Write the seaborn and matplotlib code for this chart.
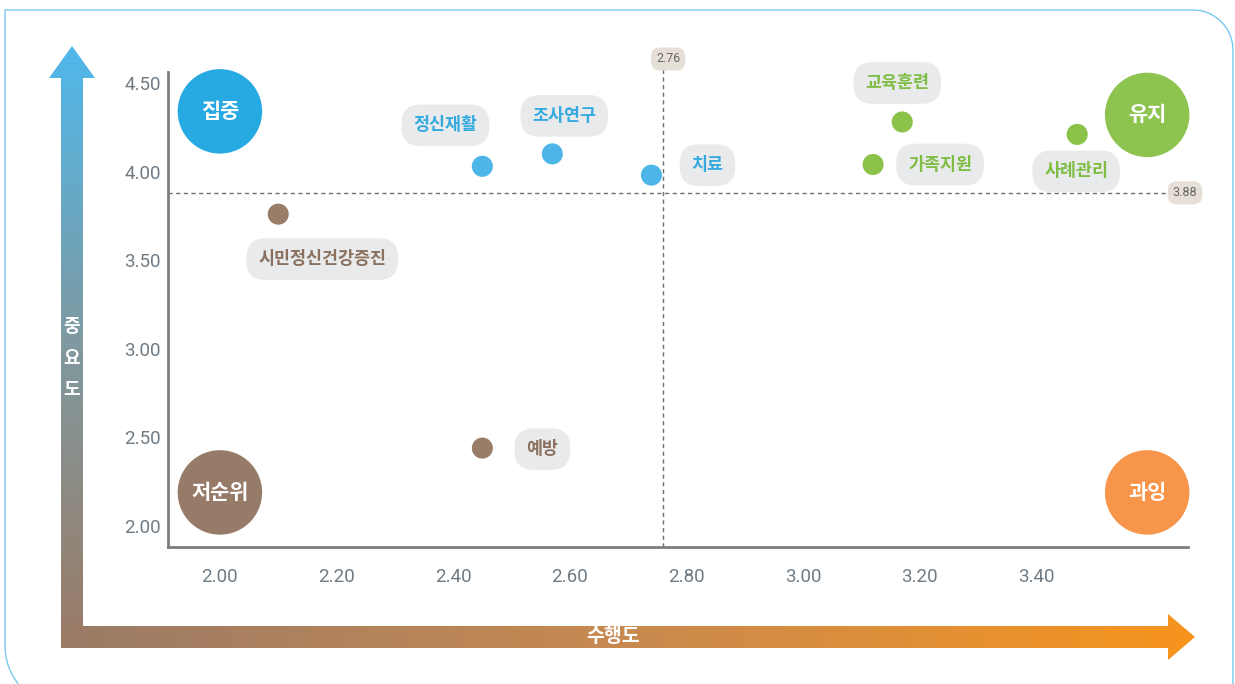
import numpy as np
import pandas as pd
import matplotlib
matplotlib.use("Agg")
import matplotlib.pyplot as plt
import seaborn as sns
from matplotlib.path import Path
from matplotlib.patches import PathPatch, Polygon
from matplotlib.colors import to_rgb
import matplotlib.transforms as mtransforms

# ---------------- data ----------------
tasks = ['시민정신건강증진', '예방', '정신재활', '조사연구', '치료', '가족지원', '교육훈련', '사례관리']
performance = [2.10, 2.45, 2.45, 2.57, 2.74, 3.12, 3.17, 3.47]
importance = [3.76, 2.44, 4.03, 4.10, 3.98, 4.04, 4.28, 4.21]
group = ['저순위', '저순위', '집중', '집중', '집중', '유지', '유지', '유지']

quadrants = ['집중', '유지', '저순위', '과잉']
quad_x = [2.00, 3.59, 2.00, 3.59]
quad_y = [4.34, 4.32, 2.19, 2.19]

x_mean = 2.76
y_mean = 3.88

x_ticks = [2.00, 2.20, 2.40, 2.60, 2.80, 3.00, 3.20, 3.40]
y_ticks = [2.00, 2.50, 3.00, 3.50, 4.00, 4.50]

x_title = '수행도'
y_title = '중요도'

# label offsets in pixels (layout only)
label_offsets = {
    '시민정신건강증진': (44, -45), '예방': (60, -1), '정신재활': (-37, 41),
    '조사연구': (12, 38), '치료': (56, 10), '가족지원': (67, 0),
    '교육훈련': (-5, 39), '사례관리': (-1, -37),
}

point_palette = {'집중': '#4db5e8', '유지': '#8bc34a', '저순위': '#9a7d69', '과잉': '#f7954a'}
text_palette = {'집중': '#35aade', '유지': '#7fbd45', '저순위': '#8a705e', '과잉': '#f08a3a'}
quad_palette = {'집중': '#27a9e1', '유지': '#8cc44f', '저순위': '#967b69', '과잉': '#f7954a'}

# ---------------- figure ----------------
sns.set_theme(style='white')
plt.rcParams['font.family'] = ['Noto Sans CJK KR', 'DejaVu Sans']

W, H = 1235, 684
fig = plt.figure(figsize=(W / 100, H / 100), dpi=100)

# background / decoration axes in pixel coordinates
bg = fig.add_axes([0, 0, 1, 1], zorder=0)
bg.set_xlim(0, W)
bg.set_ylim(H, 0)
bg.axis('off')

# frame
verts = [(1233, 700), (1233, 50), (1233, 28), (1215, 10), (1193, 10),
         (5, 10), (5, 645), (5, 667), (15, 684), (32, 698)]
codes = [Path.MOVETO, Path.LINETO, Path.CURVE4, Path.CURVE4, Path.CURVE4,
         Path.LINETO, Path.LINETO, Path.CURVE4, Path.CURVE4, Path.CURVE4]
bg.add_patch(PathPatch(Path(verts, codes), facecolor='none', edgecolor='#78c8ee', lw=1.0))


def gradient(stops, n=256):
    pos = np.array([s[0] for s in stops])
    cols = np.array([to_rgb(s[1]) for s in stops])
    t = np.linspace(0, 1, n)
    return np.stack([np.interp(t, pos, cols[:, k]) for k in range(3)], axis=-1)


# vertical arrow (blue -> brown)
v_poly = Polygon([(61, 648), (61, 78), (49, 78), (72, 46), (95, 78), (83, 78), (83, 648)],
                 closed=True, transform=bg.transData, facecolor='none', edgecolor='none')
bg.add_patch(v_poly)
vg = gradient([(0, '#4fb8ec'), (0.5, '#80999f'), (1, '#9b7b66')])[:, None, :]
im = bg.imshow(vg, extent=(49, 95, 648, 46), origin='upper', aspect='auto', zorder=1)
im.set_clip_path(v_poly)

# horizontal arrow (brown -> orange)
h_poly = Polygon([(66, 626), (1168, 626), (1168, 614), (1195, 637), (1168, 660), (1168, 648),
                  (70, 648), (63, 645), (61, 638), (61, 630)],
                 closed=True, transform=bg.transData, facecolor='none', edgecolor='none')
bg.add_patch(h_poly)
hg = gradient([(0, '#9a7b67'), (0.5, '#c98a50'), (1, '#f7941d')])[None, :, :]
im2 = bg.imshow(hg, extent=(61, 1195, 660, 614), origin='upper', aspect='auto', zorder=1)
im2.set_clip_path(h_poly)
bg.set_xlim(0, W)
bg.set_ylim(H, 0)

# axis titles on the arrows
for i, ch in enumerate(y_title):
    bg.text(72, 327 + i * 31, ch, color='white', fontsize=13, ha='center', va='center', zorder=3,
            fontweight='bold')
bg.text(613, 637, x_title, color='white', fontsize=14, ha='center', va='center', zorder=3,
        fontweight='bold')

# ---------------- data axes ----------------
ax = fig.add_axes([168 / W, (H - 547) / H, 1020 / W, (547 - 72) / H], zorder=2)
ax.set_facecolor('none')

quad_df = pd.DataFrame({'x': quad_x, 'y': quad_y, 'q': quadrants})
sns.scatterplot(data=quad_df, x='x', y='y', hue='q', palette=quad_palette, s=3700,
                linewidth=0, legend=False, ax=ax, zorder=3, clip_on=False)
for qx, qy, q in zip(quad_x, quad_y, quadrants):
    ax.text(qx, qy, q, color='white', fontsize=15, ha='center', va='center', zorder=4,
            fontweight='bold')

df = pd.DataFrame({'task': tasks, 'performance': performance, 'importance': importance, 'group': group})
sns.scatterplot(data=df, x='performance', y='importance', hue='group', palette=point_palette,
                s=230, linewidth=0, legend=False, ax=ax, zorder=5)

for t, px, py, g in zip(tasks, performance, importance, group):
    dx, dy = label_offsets[t]
    ax.annotate(t, xy=(px, py), xytext=(dx, dy), textcoords='offset pixels',
                ha='center', va='center', fontsize=12.5, color=text_palette[g], zorder=6,
                fontweight='bold',
                bbox=dict(boxstyle='round,pad=0.68,rounding_size=1.1', fc='#e9eaec', ec='none'))

# reference lines
ax.axvline(x_mean, ymin=0, ymax=1.01, color='#6e6e6e', lw=1, ls=(0, (3, 2.5)), zorder=2, clip_on=False)
ax.axhline(y_mean, xmin=0, xmax=1, color='#6e6e6e', lw=1, ls=(0, (3, 2.5)), zorder=2)
tr_v = mtransforms.blended_transform_factory(ax.transData, ax.transAxes)
tr_h = mtransforms.blended_transform_factory(ax.transAxes, ax.transData)
ax.annotate(f'{x_mean:.2f}', xy=(x_mean, 1), xycoords=tr_v, xytext=(5, 13), textcoords='offset pixels',
            ha='center', va='center', fontsize=9, color='#666666', family='Roboto', annotation_clip=False,
            bbox=dict(boxstyle='round,pad=0.4,rounding_size=0.75', fc='#e6dfd8', ec='none'), zorder=6)
ax.annotate(f'{y_mean:.2f}', xy=(1, y_mean), xycoords=tr_h, xytext=(-3, 0), textcoords='offset pixels',
            ha='center', va='center', fontsize=9, color='#666666', family='Roboto', annotation_clip=False,
            bbox=dict(boxstyle='round,pad=0.4,rounding_size=0.75', fc='#e6dfd8', ec='none'), zorder=6)

ax.set_xlim(1.911, 3.660)
ax.set_ylim(1.882, 4.562)
ax.set_xticks(x_ticks)
ax.set_xticklabels([f'{v:.2f}' for v in x_ticks])
ax.set_yticks(y_ticks)
ax.set_yticklabels([f'{v:.2f}' for v in y_ticks])
ax.tick_params(axis='both', length=0, labelsize=13.5, labelcolor='#6f7b84')
ax.tick_params(axis='x', pad=15)
ax.tick_params(axis='y', pad=5)
for lab in ax.get_xticklabels() + ax.get_yticklabels():
    lab.set_family('Roboto')
ax.set_xlabel('')
ax.set_ylabel('')
sns.despine(ax=ax)
for side in ['left', 'bottom']:
    ax.spines[side].set_color('#7d7d7f')
    ax.spines[side].set_linewidth(2)
ax.grid(False)

fig.savefig('out.png', dpi=100)
